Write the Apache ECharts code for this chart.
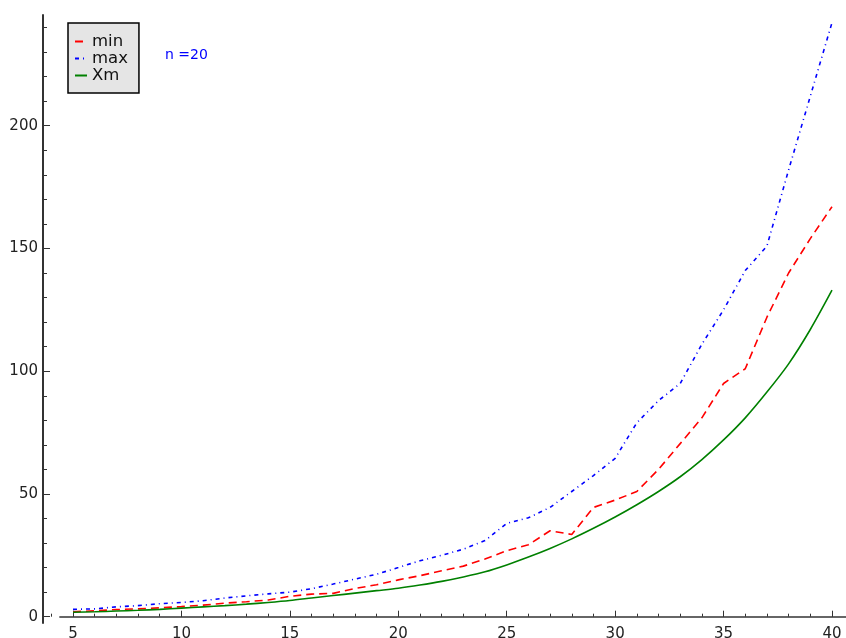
<!DOCTYPE html>
<html>
<head>
<meta charset="utf-8">
<script src="https://cdn.jsdelivr.net/npm/echarts@6/dist/echarts.min.js"></script>
<style>
html,body{margin:0;padding:0;background:#fff;}
#chart{width:846px;height:638px;}
</style>
</head>
<body>
<div id="chart"></div>
<script>
// ---- data ----
const xs = [5,6,7,8,9,10,11,12,13,14,15,16,17,18,19,20,21,22,23,24,25,26,27,28,29,30,31,32,33,34,35,36,37,38,39,40];
const minVals = [2.0,2.4,2.9,3.2,3.6,4.1,4.7,5.5,6.1,6.8,8.3,9.2,9.5,11.5,13.0,15.0,16.7,18.7,20.6,23.5,26.9,29.3,35.0,33.5,44.5,47.5,51.0,60.0,70.5,81.0,95.0,101.0,122.0,140.0,154.0,167.0];
const maxVals = [3.0,3.2,4.0,4.5,5.3,5.8,6.5,7.6,8.5,9.3,10.0,11.4,13.3,15.3,17.3,20.0,22.8,25.0,27.5,31.0,38.0,40.3,44.5,51.0,57.5,64.5,79.0,88.0,95.0,111.0,125.0,141.0,151.0,182.0,212.0,242.0];
const xmVals = [1.8,2.0,2.3,2.6,3.0,3.5,4.0,4.5,5.1,5.8,6.6,7.6,8.6,9.6,10.6,11.6,12.9,14.4,16.2,18.3,21.1,24.3,27.8,31.7,36.0,40.6,45.6,51.0,57.0,64.0,72.0,81.0,91.5,103.0,117.0,133.0];
const seriesNames = ['min','max','Xm'];
const xTickLabels = [5,10,15,20,25,30,35,40];
const xMinorTicks = [4,5,6,7,8,9,10,11,12,13,14,15,16,17,18,19,20,21,22,23,24,25,26,27,28,29,30,31,32,33,34,35,36,37,38,39,40];
const yTickLabels = [0,50,100,150,200];
const yMinorTicks = [0,10,20,30,40,50,60,70,80,90,100,110,120,130,140,150,160,170,180,190,200,210,220,230,240];
const annotation = 'n =20';

// ---- axis ranges ----
const X_MIN = 3.617, X_MAX = 40.646, X_LINE_START = 4.37;
const Y_MIN = -2.57, Y_MAX = 245.1;

const FONT = 'DejaVu Sans';
const AX = '#333';
const pairs = v => xs.map((x, i) => [x, v[i]]);

const chart = echarts.init(document.getElementById('chart'));
chart.setOption({
  animation: false,
  backgroundColor: '#fff',
  grid: { left: 43, right: 0, top: 15, bottom: 15, containLabel: false, outerBoundsMode: 'none' },
  legend: {
    orient: 'vertical', left: 68, top: 23,
    data: seriesNames,
    backgroundColor: '#e5e5e5', borderColor: '#000', borderWidth: 1.5,
    padding: [10, 11, 9, 6],
    itemWidth: 12, itemHeight: 10, itemGap: 0, itemTextGap: 2,
    itemStyle: { opacity: 0, borderWidth: 0 },
    textStyle: { fontFamily: FONT, fontSize: 16.5, color: '#111', lineHeight: 17 }
  },
  xAxis: [
    {
      type: 'value', min: X_MIN, max: X_MAX, position: 'bottom',
      axisLine: { show: true, onZero: true, lineStyle: { opacity: 0 } },
      splitLine: { show: false },
      axisTick: { show: true, inside: true, length: 6, customValues: xTickLabels, lineStyle: { color: AX, width: 1 } },
      axisLabel: { customValues: xTickLabels, fontFamily: FONT, fontSize: 15, color: '#222', margin: 4 }
    },
    {
      type: 'value', min: X_MIN, max: X_MAX, position: 'bottom',
      axisLine: { show: true, onZero: true, lineStyle: { opacity: 0 } },
      splitLine: { show: false },
      axisTick: { show: true, inside: true, length: 3, customValues: xMinorTicks, lineStyle: { color: AX, width: 1 } },
      axisLabel: { show: false }
    }
  ],
  yAxis: [
    {
      type: 'value', min: Y_MIN, max: Y_MAX, position: 'left',
      axisLine: { show: true, onZero: false, lineStyle: { color: AX, width: 2 } },
      splitLine: { show: false },
      axisTick: { show: true, inside: true, length: 7, customValues: yTickLabels, lineStyle: { color: AX, width: 1 } },
      axisLabel: { customValues: yTickLabels, fontFamily: FONT, fontSize: 15, color: '#222', margin: 5 }
    },
    {
      type: 'value', min: Y_MIN, max: Y_MAX, position: 'left',
      axisLine: { show: false, onZero: false },
      splitLine: { show: false },
      axisTick: { show: true, inside: true, length: 4, customValues: yMinorTicks, lineStyle: { color: AX, width: 1 } },
      axisLabel: { show: false }
    }
  ],
  graphic: [
    { type: 'text', left: 165, top: 48, style: { text: annotation, fill: '#0000ff', font: '14px "DejaVu Sans"' } }
  ],
  series: [
    {
      name: seriesNames[0], type: 'line', data: pairs(minVals), showSymbol: false, symbol: 'none',
      color: '#ff0000',
      lineStyle: { color: '#ff0000', width: 1.6, type: [8, 5] },
      markLine: {
        silent: true, symbol: ['none', 'none'], label: { show: false },
        lineStyle: { color: AX, width: 1.5, type: 'solid' },
        data: [[{ coord: [X_LINE_START, 0] }, { coord: [X_MAX, 0] }]]
      },
      z: 3
    },
    {
      name: seriesNames[1], type: 'line', data: pairs(maxVals), showSymbol: false, symbol: 'none',
      color: '#0000ff',
      lineStyle: { color: '#0000ff', width: 1.6, type: [4, 4, 1, 4] },
      z: 3
    },
    {
      name: seriesNames[2], type: 'line', data: pairs(xmVals), showSymbol: false, symbol: 'none', smooth: 0.3,
      color: '#008000',
      lineStyle: { color: '#008000', width: 1.6, type: 'solid' },
      z: 3
    }
  ]
});
</script>
</body>
</html>
